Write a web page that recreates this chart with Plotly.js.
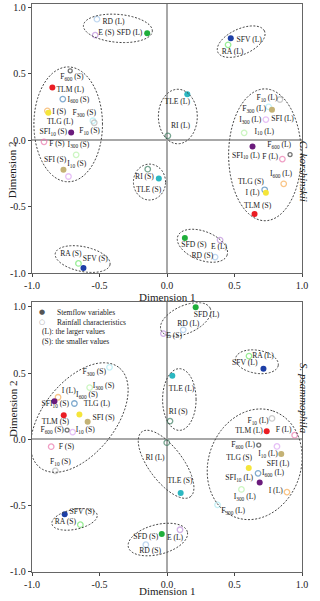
<!DOCTYPE html>
<html>
<head>
<meta charset="utf-8">
<script src="https://cdn.plot.ly/plotly-3.0.1.min.js"></script>
<style>
  html, body { margin: 0; padding: 0; background: #fff; }
  #chart { width: 320px; height: 601px; }
</style>
</head>
<body>
<div id="chart"></div>
<script>
// variable keys: stemflow variables are drawn filled, rainfall characteristics open
const stemflowVars = ['SFD', 'SFV', 'TLM', 'TLG', 'TLE', 'SFI', 'SFI10'];

// C. korshinskii (top panel) category coordinates
const topKeys = ['RD', 'E', 'SFD', 'F600', 'TLM', 'I600', 'I', 'TLG', 'F300', 'F10', 'SFI10', 'F', 'I300', 'SFI', 'I10', 'RI', 'TLE', 'RA', 'SFV',
  'SFV', 'RA', 'TLE', 'RI', 'F10', 'F300', 'SFI', 'I10', 'I300', 'SFI10', 'F600', 'F', 'I', 'I600', 'TLG', 'TLM', 'SFD', 'E', 'RD'];
const topX = [-0.519, -0.532, -0.147, -0.717, -0.849, -0.772, -0.886, -0.879, -0.549, -0.539, -0.710, -0.911, -0.673, -0.767, -0.730, -0.143, -0.061, -0.656, -0.619,
  0.472, 0.452, 0.150, 0.006, 0.836, 0.752, 0.777, 0.732, 0.571, 0.633, 0.911, 0.854, 0.864, 0.723, 0.732, 0.648, 0.132, 0.393, 0.356];
const topY = [0.911, 0.791, 0.806, 0.523, 0.397, 0.310, 0.222, 0.207, 0.147, 0.132, 0.059, -0.011, -0.109, -0.222, -0.272, -0.217, -0.287, -0.926, -0.961,
  0.768, 0.718, 0.347, 0.034, 0.307, 0.252, 0.229, 0.156, 0.056, -0.047, -0.107, -0.141, -0.327, -0.372, -0.395, -0.555, -0.735, -0.750, -0.878];

const topLabels = ['RD (L)', 'E (S)', 'SFD (L)', 'F<sub>600</sub> (S)', 'TLM (L)', 'I<sub>600</sub> (S)', 'I (S)', 'F<sub>300</sub> (S)', 'TLG (L)',
  'SFI<sub>10</sub> (S)', 'F<sub>10</sub> (S)', 'F (S)', 'I<sub>300</sub> (S)', 'SFI (S)', 'I<sub>10</sub> (S)', 'RI (S)', 'TLE (S)', 'RA (S)', 'SFV (S)',
  'SFV (L)', 'RA (L)', 'TLE (L)', 'RI (L)', 'F<sub>10</sub> (L)', 'F<sub>300</sub> (L)', 'I<sub>300</sub> (L)', 'SFI (L)', 'I<sub>10</sub> (L)',
  'F<sub>600</sub> (L)', 'SFI<sub>10</sub> (L)', 'F (L)', 'I<sub>600</sub> (L)', 'TLG (S)', 'I (L)', 'TLM (S)', 'SFD (S)', 'E (L)', 'RD (S)'];
const topLabelX = [-0.396, -0.450, -0.277, -0.705, -0.717, -0.656, -0.799, -0.613, -0.792, -0.842, -0.574, -0.816, -0.656, -0.829, -0.668, -0.167, -0.135, -0.712, -0.532,
  0.608, 0.485, 0.076, 0.100, 0.740, 0.645, 0.616, 0.856, 0.720, 0.831, 0.584, 0.764, 0.844, 0.621, 0.633, 0.671, 0.199, 0.385, 0.262];
const topLabelY = [0.886, 0.806, 0.806, 0.472, 0.380, 0.305, 0.209, 0.205, 0.134, 0.059, 0.066, -0.029, -0.034, -0.147, -0.179, -0.280, -0.374, -0.856, -0.893,
  0.753, 0.665, 0.284, 0.109, 0.314, 0.232, 0.152, 0.159, 0.064, -0.039, -0.117, -0.126, -0.254, -0.317, -0.400, -0.498, -0.788, -0.806, -0.868];

// S. psammophila (bottom panel)
const botKeys = ['SFD', 'RD', 'E', 'RA', 'SFV', 'TLE', 'RI', 'F10', 'TLM', 'F', 'F300', 'I300', 'I', 'SFI10', 'I600', 'TLM', 'TLG', 'SFI', 'F600',
  'I10', 'F', 'F10', 'SFV', 'RA', 'RD', 'SFD', 'E', 'TLE', 'RI', 'F600', 'I10', 'SFI', 'TLG', 'I600', 'SFI10', 'I', 'I300', 'F300'];
const botX = [0.212, 0.120, -0.027, 0.607, 0.714, 0.039, 0.022, 0.777, 0.738, 0.945, -0.426, -0.573, -0.807, -0.834, -0.686, -0.765, -0.649, -0.588, -0.740,
  -0.699, -0.858, -0.827, -0.758, -0.642, -0.157, -0.039, 0.096, 0.101, -0.002, 0.679, 0.814, 0.846, 0.605, 0.674, 0.686, 0.888, 0.551, 0.374];
const botY = [0.998, 0.827, 0.799, 0.629, 0.534, 0.481, 0.138, 0.158, 0.062, 0.032, 0.544, 0.391, 0.318, 0.288, 0.271, 0.183, 0.188, 0.133, 0.070,
  0.055, -0.055, -0.238, -0.566, -0.644, -0.795, -0.714, -0.682, -0.404, -0.025, -0.043, -0.053, -0.110, -0.216, -0.256, -0.326, -0.398, -0.378, -0.494];

const botLabels = ['SFD (L)', 'RD (L)', 'E (S)', 'RA (L)', 'SFV (L)', 'TLE (L)', 'RI (S)', 'F<sub>10</sub> (L)', 'TLM (L)', 'F (L)',
  'F<sub>300</sub> (S)', 'I<sub>300</sub> (S)', 'I (L)', 'I<sub>600</sub> (S)', 'SFI<sub>10</sub> (S)', 'TLG (L)', 'TLM (S)', 'SFI (S)', 'F<sub>600</sub> (S)',
  'I<sub>10</sub> (S)', 'F (S)', 'F<sub>10</sub> (S)', 'SFV (S)', 'RA (S)', 'SFD (S)', 'RD (S)', 'E (L)', 'TLE (S)', 'RI (L)',
  'F<sub>600</sub> (L)', 'I<sub>10</sub> (L)', 'TLG (S)', 'SFI (L)', 'SFI<sub>10</sub> (L)', 'I<sub>600</sub> (L)', 'I (L)', 'I<sub>300</sub> (L)', 'F<sub>300</sub> (L)'];
const botLabelX = [0.293, 0.157, 0.052, 0.711, 0.576, 0.108, 0.083, 0.674, 0.607, 0.863, -0.539, -0.470, -0.728, -0.593, -0.827, -0.519, -0.827, -0.470, -0.851,
  -0.605, -0.745, -0.790, -0.630, -0.753, -0.157, -0.125, 0.059, 0.096, -0.089, 0.563, 0.748, 0.534, 0.822, 0.534, 0.785, 0.805, 0.576, 0.489];
const botLabelY = [0.940, 0.872, 0.777, 0.632, 0.577, 0.383, 0.208, 0.138, 0.062, 0.068, 0.506, 0.401, 0.363, 0.331, 0.263, 0.268, 0.133, 0.158, 0.070,
  0.068, -0.055, -0.175, -0.551, -0.626, -0.735, -0.844, -0.747, -0.318, -0.143, -0.045, -0.113, -0.143, -0.188, -0.293, -0.256, -0.389, -0.438, -0.544];

// dashed groupings: [centre x, centre y, semi-axis a, semi-axis b, rotation deg]
const topRings = [
  [-0.364, 0.842, 0.256, 0.105, -5],
  [-0.732, 0.120, 0.254, 0.432, 0],
  [-0.130, -0.314, 0.119, 0.135, 0],
  [-0.625, -0.893, 0.207, 0.093, -12],
  [0.549, 0.742, 0.190, 0.096, 25],
  [0.080, 0.179, 0.144, 0.205, 0],
  [0.725, -0.109, 0.269, 0.496, 0],
  [0.262, -0.793, 0.196, 0.108, -22]
];
const botRings = [
  [0.138, 0.906, 0.200, 0.104, 25],
  [0.666, 0.586, 0.160, 0.087, -10],
  [0.091, 0.301, 0.124, 0.233, 0],
  [-0.649, 0.165, 0.478, 0.270, 52.6],
  [-0.007, -0.188, 0.304, 0.127, -54],
  [0.649, -0.188, 0.425, 0.343, 72],
  [-0.685, -0.604, 0.171, 0.075, 12],
  [-0.068, -0.756, 0.226, 0.112, 15]
];

const ticks = [-1, -0.5, 0, 0.5, 1];
const tickText = ['-1.0', '-0.5', '0.0', '0.5', '1.0'];

const colors = {
  SFD: '#1fae3a', SFV: '#1d3fa6', TLM: '#ea1d24', TLG: '#f5e53a', TLE: '#2bb7c1', SFI: '#c4b275', SFI10: '#6b1b7c',
  RA: '#6ee66a', RD: '#a4c6ea', E: '#bd8fdc', RI: '#3f7f63', F: '#ea78ad', I: '#f6ad55', I10: '#dba5f2',
  I300: '#b7f2a8', I600: '#4c88ba', F10: '#b5b5b5', F300: '#ace9f2', F600: '#3a3a3a'
};
const serif = 'Liberation Serif, Times New Roman, serif';

function pointTraces(keys, xs, ys, xa, ya) {
  const filled = { x: [], y: [], c: [] }, open = { x: [], y: [], c: [], s: [] };
  keys.forEach((k, i) => {
    if (stemflowVars.includes(k)) {
      filled.x.push(xs[i]); filled.y.push(ys[i]); filled.c.push(colors[k]);
    } else {
      open.x.push(xs[i]); open.y.push(ys[i]); open.c.push(colors[k]); open.s.push(k === 'F600' ? 4 : 5.5);
    }
  });
  return [
    { type: 'scatter', mode: 'markers', x: open.x, y: open.y, xaxis: xa, yaxis: ya, hoverinfo: 'skip', showlegend: false,
      marker: { symbol: 'circle-open', size: open.s, color: open.c, line: { color: open.c, width: 1.3 } } },
    { type: 'scatter', mode: 'markers', x: filled.x, y: filled.y, xaxis: xa, yaxis: ya, hoverinfo: 'skip', showlegend: false,
      marker: { symbol: 'circle', size: 6, color: filled.c, line: { width: 0 } } }
  ];
}

function labelTrace(texts, xs, ys, xa, ya) {
  return { type: 'scatter', mode: 'text', x: xs, y: ys, text: texts, xaxis: xa, yaxis: ya,
    hoverinfo: 'skip', showlegend: false, textposition: 'middle center',
    textfont: { family: serif, size: 7.6, color: '#1a1a1a' } };
}

function ringShape(r, xref, yref) {
  const [cx, cy, a, b, deg] = r;
  const t = deg * Math.PI / 180;
  let d = '';
  for (let i = 0; i <= 80; i++) {
    const p = i / 80 * 2 * Math.PI;
    const x = cx + a * Math.cos(p) * Math.cos(t) - b * Math.sin(p) * Math.sin(t);
    const y = cy + a * Math.cos(p) * Math.sin(t) + b * Math.sin(p) * Math.cos(t);
    d += (i ? 'L' : 'M') + x.toFixed(4) + ',' + y.toFixed(4);
  }
  return { type: 'path', path: d + 'Z', xref: xref, yref: yref,
    line: { color: '#444', width: 1, dash: '2px,1.6px' } };
}

const data = [].concat(
  pointTraces(topKeys, topX, topY, 'x', 'y'),
  [labelTrace(topLabels, topLabelX, topLabelY, 'x', 'y')],
  pointTraces(botKeys, botX, botY, 'x2', 'y2'),
  [labelTrace(botLabels, botLabelX, botLabelY, 'x2', 'y2')]
);

function axis(extra) {
  return Object.assign({
    tickvals: ticks, ticktext: tickText, ticks: 'outside', ticklen: 3, tickwidth: 1, tickcolor: '#444',
    showline: true, mirror: true, linecolor: '#666', linewidth: 1.2,
    showgrid: false, zeroline: true, zerolinecolor: '#a8a8a8', zerolinewidth: 2,
    tickfont: { family: serif, size: 10, color: '#222' }, fixedrange: true
  }, extra);
}

const titleFont = { family: serif, size: 11, color: '#222' };
const smallFont = { family: serif, size: 7.5, color: '#222' };

const layout = {
  width: 320, height: 601,
  margin: { l: 0, r: 0, t: 0, b: 0 },
  paper_bgcolor: '#fff', plot_bgcolor: '#fff',
  showlegend: false,
  xaxis: axis({ domain: [0.1, 0.944], range: [-1, 1], anchor: 'y' }),
  yaxis: axis({ domain: [0.5453, 0.9933], range: [-1, 1.025], anchor: 'x' }),
  xaxis2: axis({ domain: [0.1, 0.944], range: [-1, 1], anchor: 'y2' }),
  yaxis2: axis({ domain: [0.0485, 0.4970], range: [-1, 1.035], anchor: 'x2' }),
  shapes: topRings.map(r => ringShape(r, 'x', 'y')).concat(botRings.map(r => ringShape(r, 'x2', 'y2'))),
  annotations: [
    { text: 'Dimension 1', xref: 'paper', yref: 'paper', x: 0.523, y: 0.505, showarrow: false, font: titleFont },
    { text: 'Dimension 2', xref: 'paper', yref: 'paper', x: 0.015, y: 0.769, textangle: -90, showarrow: false, font: titleFont },
    { text: '<i>C. korshinskii</i>', xref: 'paper', yref: 'paper', x: 0.975, y: 0.770, textangle: 90, showarrow: false, font: titleFont },
    { text: 'Dimension 1', xref: 'paper', yref: 'paper', x: 0.523, y: 0.004, showarrow: false, font: titleFont },
    { text: 'Dimension 2', xref: 'paper', yref: 'paper', x: 0.015, y: 0.27, textangle: -90, showarrow: false, font: titleFont },
    { text: '<i>S. psammophila</i>', xref: 'paper', yref: 'paper', x: 0.975, y: 0.2755, textangle: 90, showarrow: false, font: titleFont },
    // key in the lower panel
    { text: '●', xref: 'x2', yref: 'y2', x: -0.925, y: 0.96, showarrow: false, font: { family: 'DejaVu Sans', size: 7, color: '#555' } },
    { text: 'Stemflow variables', xref: 'x2', yref: 'y2', x: -0.83, y: 0.96, xanchor: 'left', showarrow: false, font: smallFont },
    { text: '○', xref: 'x2', yref: 'y2', x: -0.925, y: 0.885, showarrow: false, font: { family: 'DejaVu Sans', size: 7, color: '#999' } },
    { text: 'Rainfall characteristics', xref: 'x2', yref: 'y2', x: -0.83, y: 0.885, xanchor: 'left', showarrow: false, font: smallFont },
    { text: '(L): the larger values', xref: 'x2', yref: 'y2', x: -0.94, y: 0.814, xanchor: 'left', showarrow: false, font: smallFont },
    { text: '(S): the smaller values', xref: 'x2', yref: 'y2', x: -0.94, y: 0.739, xanchor: 'left', showarrow: false, font: smallFont }
  ]
};

Plotly.newPlot('chart', data, layout, { displayModeBar: false, staticPlot: true });
</script>
</body>
</html>
